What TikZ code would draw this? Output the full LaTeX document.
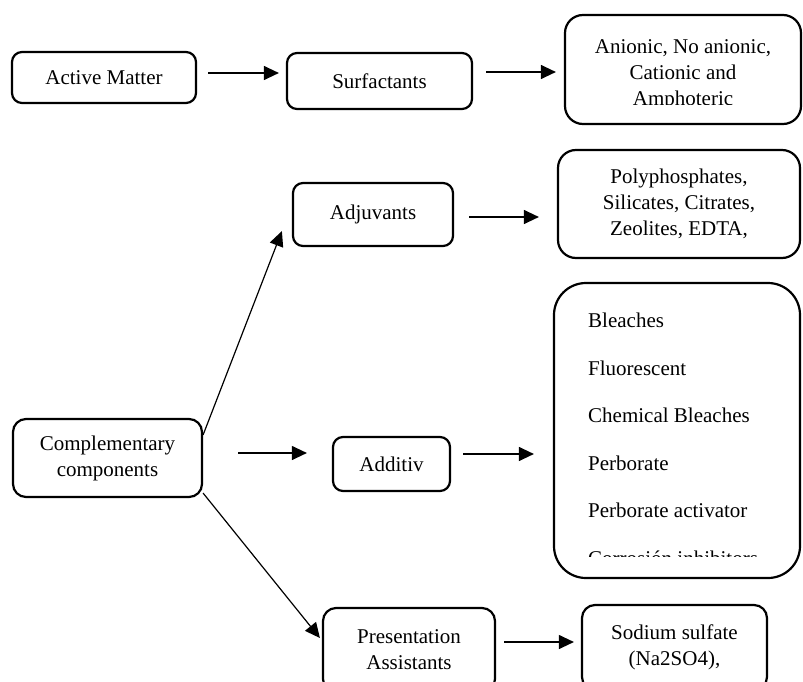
\documentclass[tikz,border=0pt]{standalone}
\usepackage{fontspec}
\setmainfont{Liberation Serif}
\usetikzlibrary{arrows.meta, positioning}

\begin{document}
\begin{tikzpicture}[x=1pt, y=-1pt,
  bnode/.style={draw, line width=2.2pt, rounded corners=10pt, align=center, font=\fontsize{21}{26}\selectfont, inner sep=0pt},
  tnode/.style={align=center, font=\fontsize{21}{26}\selectfont, inner sep=0pt},
  lnode/.style={align=left, font=\fontsize{21}{47.5}\selectfont, inner sep=0pt},
  flow/.style={-{Triangle[length=15pt, width=14pt]}, line width=1.2pt}
]
\clip (0,0) rectangle (803,682);
% top row
\node[bnode, minimum width=184pt, minimum height=51pt] (active) at (104,77.5) {Active Matter};
\node[bnode, minimum width=185pt, minimum height=56pt] (surf) at (379.5,81) {Surfactants};
\node[bnode, rounded corners=18pt, minimum width=236pt, minimum height=109pt] (anion) at (683,69.5) {};
\begin{scope}
  \clip (566,16) rectangle (800,105);
  \node[tnode] (aniontext) at (683,75) {Anionic, No anionic,\\ Cationic and\\ Amphoteric};
\end{scope}
% components
\node[bnode, minimum width=160pt, minimum height=63pt] (adjuv) at (373,214.5) {Adjuvants};
\node[bnode, rounded corners=18pt, minimum width=242pt, minimum height=108pt] (poly) at (679,204) {Polyphosphates,\\ Silicates, Citrates,\\ Zeolites, EDTA,};
\node[bnode, rounded corners=13pt, minimum width=189pt, minimum height=78pt] (compl) at (107.5,458) {Complementary\\ components};
\node[bnode, minimum width=117pt, minimum height=54pt] (additiv) at (391.5,464) {Additiv};
\node[bnode, rounded corners=32pt, minimum width=246pt, minimum height=295pt] (addlist) at (677,430.5) {};
\begin{scope}
  \clip (556,285) rectangle (799,556.5);
  \node[lnode, anchor=north west] (addtext) at (588,313) {Bleaches\\ Fluorescent\\ Chemical Bleaches\\ Perborate\\ Perborate activator\\ Corrosión inhibitors};
\end{scope}
\node[bnode, rounded corners=13pt, minimum width=172pt, minimum height=84pt] (present) at (409,650) {Presentation\\ Assistants};
\node[bnode, rounded corners=13pt, minimum width=185pt, minimum height=85pt] (sodium) at (674.5,647.5) {Sodium sulfate\\ (Na2SO4),};
% arrows
\draw[flow] ([xshift=11pt,yshift=4.5pt]active.east) -- ([xshift=-7pt,yshift=8pt]surf.west);
\draw[flow] ([xshift=13pt,yshift=9pt]surf.east) -- ([xshift=-8pt,yshift=-2.5pt]anion.west);
\draw[flow] ([xshift=15pt,yshift=-2.5pt]adjuv.east) -- ([xshift=-18pt,yshift=-13pt]poly.west);
\draw[flow] ([xshift=35pt,yshift=5pt]compl.east) -- ([xshift=-25pt,yshift=11pt]additiv.west);
\draw[flow] ([xshift=12pt,yshift=10pt]additiv.east) -- ([xshift=-19pt,yshift=-23.5pt]addlist.west);
\draw[flow] ([yshift=-17pt]compl.north east) -- ([xshift=-10pt,yshift=16pt]adjuv.south west);
\draw[flow] ([yshift=5pt]compl.south east) -- ([xshift=-2pt,yshift=12pt]present.west);
\draw[flow] ([xshift=8pt,yshift=8pt]present.east) -- ([xshift=-7pt,yshift=5.5pt]sodium.west);
\end{tikzpicture}
\end{document}
